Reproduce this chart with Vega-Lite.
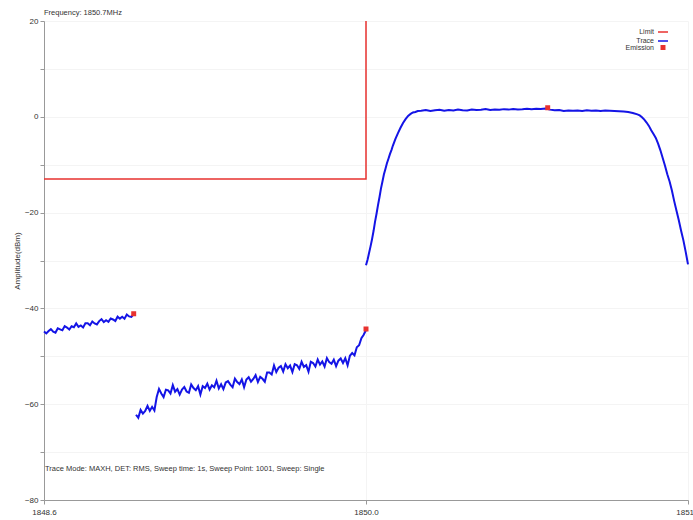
{
  "$schema": "https://vega.github.io/schema/vega-lite/v6.json",
  "width": 644,
  "height": 479,
  "autosize": {"type": "none"},
  "padding": {"left": 44, "top": 21, "right": 5, "bottom": 20},
  "background": "white",
  "config": {
    "font": "Liberation Sans",
    "view": {"stroke": null},
    "axis": {"domainColor": "#999999", "tickColor": "#999999", "labelColor": "#333333", "labelFontSize": 8, "titleFontSize": 8, "titleFontWeight": "normal", "titleColor": "#333333", "gridColor": "#f4f4f4", "tickSize": 4, "labelFlush": false}
  },
  "title": {"text": "Frequency: 1850.7MHz", "anchor": "start", "frame": "group", "fontSize": 7.5, "fontWeight": "normal", "color": "#333333", "offset": 1},
  "datasets": {
    "trace": [
      {"f":1848.60,"a":-44.8,"s":"a"},{"f":1848.61,"a":-45.21,"s":"a"},{"f":1848.62,"a":-44.72,"s":"a"},{"f":1848.63,"a":-44.33,"s":"a"},{"f":1848.64,"a":-44.84,"s":"a"},{"f":1848.65,"a":-45.05,"s":"a"},{"f":1848.66,"a":-44.16,"s":"a"},{"f":1848.67,"a":-44.37,"s":"a"},{"f":1848.68,"a":-44.58,"s":"a"},{"f":1848.69,"a":-43.69,"s":"a"},{"f":1848.70,"a":-44.0,"s":"a"},{"f":1848.71,"a":-44.41,"s":"a"},{"f":1848.72,"a":-43.72,"s":"a"},{"f":1848.73,"a":-43.93,"s":"a"},{"f":1848.74,"a":-43.14,"s":"a"},{"f":1848.75,"a":-43.85,"s":"a"},{"f":1848.76,"a":-43.56,"s":"a"},{"f":1848.77,"a":-43.97,"s":"a"},{"f":1848.78,"a":-43.08,"s":"a"},{"f":1848.79,"a":-43.09,"s":"a"},{"f":1848.80,"a":-43.51,"s":"a"},{"f":1848.81,"a":-42.72,"s":"a"},{"f":1848.82,"a":-43.13,"s":"a"},{"f":1848.83,"a":-43.34,"s":"a"},{"f":1848.84,"a":-42.65,"s":"a"},{"f":1848.85,"a":-42.26,"s":"a"},{"f":1848.86,"a":-42.87,"s":"a"},{"f":1848.87,"a":-42.48,"s":"a"},{"f":1848.88,"a":-42.79,"s":"a"},{"f":1848.89,"a":-42.10,"s":"a"},{"f":1848.90,"a":-42.31,"s":"a"},{"f":1848.91,"a":-42.62,"s":"a"},{"f":1848.92,"a":-41.73,"s":"a"},{"f":1848.93,"a":-42.14,"s":"a"},{"f":1848.94,"a":-41.75,"s":"a"},{"f":1848.95,"a":-42.16,"s":"a"},{"f":1848.96,"a":-41.27,"s":"a"},{"f":1848.97,"a":-41.68,"s":"a"},{"f":1848.98,"a":-41.79,"s":"a"},{"f":1848.99,"a":-41.2,"s":"a"},
      {"f":1849.00,"a":-62.2,"s":"b"},{"f":1849.01,"a":-62.85,"s":"b"},{"f":1849.02,"a":-61.2,"s":"b"},{"f":1849.03,"a":-61.95,"s":"b"},{"f":1849.04,"a":-61.4,"s":"b"},{"f":1849.05,"a":-60.35,"s":"b"},{"f":1849.06,"a":-61.4,"s":"b"},{"f":1849.07,"a":-60.55,"s":"b"},{"f":1849.08,"a":-61.3,"s":"b"},{"f":1849.09,"a":-58.5,"s":"b"},{"f":1849.10,"a":-56.8,"s":"b"},{"f":1849.11,"a":-57.75,"s":"b"},{"f":1849.12,"a":-58.51,"s":"b"},{"f":1849.13,"a":-56.97,"s":"b"},{"f":1849.14,"a":-57.12,"s":"b"},{"f":1849.15,"a":-57.78,"s":"b"},{"f":1849.16,"a":-56.03,"s":"b"},{"f":1849.17,"a":-57.39,"s":"b"},{"f":1849.18,"a":-56.84,"s":"b"},{"f":1849.19,"a":-58.0,"s":"b"},{"f":1849.20,"a":-56.95,"s":"b"},{"f":1849.21,"a":-56.4,"s":"b"},{"f":1849.22,"a":-57.36,"s":"b"},{"f":1849.23,"a":-57.62,"s":"b"},{"f":1849.24,"a":-55.87,"s":"b"},{"f":1849.25,"a":-56.63,"s":"b"},{"f":1849.26,"a":-57.08,"s":"b"},{"f":1849.27,"a":-56.24,"s":"b"},{"f":1849.28,"a":-57.99,"s":"b"},{"f":1849.29,"a":-56.25,"s":"b"},{"f":1849.30,"a":-56.6,"s":"b"},{"f":1849.31,"a":-55.72,"s":"b"},{"f":1849.32,"a":-56.94,"s":"b"},{"f":1849.33,"a":-56.06,"s":"b"},{"f":1849.34,"a":-56.48,"s":"b"},{"f":1849.35,"a":-55.1,"s":"b"},{"f":1849.36,"a":-56.72,"s":"b"},{"f":1849.37,"a":-55.84,"s":"b"},{"f":1849.38,"a":-56.86,"s":"b"},{"f":1849.39,"a":-55.48,"s":"b"},{"f":1849.40,"a":-55.2,"s":"b"},{"f":1849.41,"a":-55.92,"s":"b"},{"f":1849.42,"a":-56.44,"s":"b"},{"f":1849.43,"a":-54.66,"s":"b"},{"f":1849.44,"a":-55.38,"s":"b"},{"f":1849.45,"a":-55.8,"s":"b"},{"f":1849.46,"a":-54.82,"s":"b"},{"f":1849.47,"a":-56.44,"s":"b"},{"f":1849.48,"a":-54.86,"s":"b"},{"f":1849.49,"a":-54.38,"s":"b"},{"f":1849.50,"a":-55.3,"s":"b"},{"f":1849.51,"a":-54.72,"s":"b"},{"f":1849.52,"a":-53.94,"s":"b"},{"f":1849.53,"a":-55.36,"s":"b"},{"f":1849.54,"a":-54.28,"s":"b"},{"f":1849.55,"a":-54.7,"s":"b"},{"f":1849.56,"a":-55.3,"s":"b"},{"f":1849.57,"a":-53.4,"s":"b"},{"f":1849.58,"a":-53.4,"s":"b"},{"f":1849.59,"a":-53.8,"s":"b"},{"f":1849.60,"a":-51.9,"s":"b"},{"f":1849.61,"a":-53.3,"s":"b"},{"f":1849.62,"a":-52.4,"s":"b"},{"f":1849.63,"a":-52.05,"s":"b"},{"f":1849.64,"a":-53.19,"s":"b"},{"f":1849.65,"a":-51.64,"s":"b"},{"f":1849.66,"a":-52.49,"s":"b"},{"f":1849.67,"a":-51.93,"s":"b"},{"f":1849.68,"a":-53.28,"s":"b"},{"f":1849.69,"a":-51.63,"s":"b"},{"f":1849.70,"a":-51.87,"s":"b"},{"f":1849.71,"a":-52.62,"s":"b"},{"f":1849.72,"a":-51.16,"s":"b"},{"f":1849.73,"a":-52.21,"s":"b"},{"f":1849.74,"a":-51.86,"s":"b"},{"f":1849.75,"a":-53.2,"s":"b"},{"f":1849.76,"a":-51.15,"s":"b"},{"f":1849.77,"a":-51.4,"s":"b"},{"f":1849.78,"a":-52.14,"s":"b"},{"f":1849.79,"a":-50.69,"s":"b"},{"f":1849.80,"a":-51.74,"s":"b"},{"f":1849.81,"a":-51.08,"s":"b"},{"f":1849.82,"a":-52.13,"s":"b"},{"f":1849.83,"a":-50.38,"s":"b"},{"f":1849.84,"a":-51.22,"s":"b"},{"f":1849.85,"a":-51.57,"s":"b"},{"f":1849.86,"a":-50.71,"s":"b"},{"f":1849.87,"a":-52.06,"s":"b"},{"f":1849.88,"a":-50.91,"s":"b"},{"f":1849.89,"a":-50.45,"s":"b"},{"f":1849.90,"a":-51.4,"s":"b"},{"f":1849.91,"a":-50.4,"s":"b"},{"f":1849.92,"a":-51.9,"s":"b"},{"f":1849.93,"a":-49.9,"s":"b"},{"f":1849.94,"a":-49.3,"s":"b"},{"f":1849.95,"a":-49.8,"s":"b"},{"f":1849.96,"a":-48.1,"s":"b"},{"f":1849.97,"a":-47.7,"s":"b"},{"f":1849.98,"a":-46.2,"s":"b"},{"f":1849.99,"a":-45.5,"s":"b"},{"f":1850.00,"a":-44.5,"s":"b"},
      {"f":1850.000,"a":-31.0,"s":"c"},{"f":1850.007,"a":-29.8,"s":"c"},{"f":1850.013,"a":-28.5,"s":"c"},{"f":1850.020,"a":-27.0,"s":"c"},{"f":1850.026,"a":-25.6,"s":"c"},{"f":1850.033,"a":-23.8,"s":"c"},{"f":1850.039,"a":-22.0,"s":"c"},{"f":1850.046,"a":-20.2,"s":"c"},{"f":1850.052,"a":-18.5,"s":"c"},{"f":1850.059,"a":-16.7,"s":"c"},{"f":1850.065,"a":-15.0,"s":"c"},{"f":1850.072,"a":-13.4,"s":"c"},{"f":1850.078,"a":-12.0,"s":"c"},{"f":1850.085,"a":-10.8,"s":"c"},{"f":1850.091,"a":-9.7,"s":"c"},{"f":1850.098,"a":-8.7,"s":"c"},{"f":1850.104,"a":-7.8,"s":"c"},{"f":1850.111,"a":-6.9,"s":"c"},{"f":1850.117,"a":-6.0,"s":"c"},{"f":1850.128,"a":-4.6,"s":"c"},{"f":1850.139,"a":-3.4,"s":"c"},{"f":1850.150,"a":-2.3,"s":"c"},{"f":1850.161,"a":-1.3,"s":"c"},{"f":1850.172,"a":-0.5,"s":"c"},{"f":1850.183,"a":0.2,"s":"c"},{"f":1850.194,"a":0.6,"s":"c"},{"f":1850.204,"a":0.9,"s":"c"},{"f":1850.215,"a":1.0,"s":"c"},{"f":1850.225,"a":1.2,"s":"c"},
      {"f":1850.24,"a":1.25,"s":"c"},{"f":1850.26,"a":1.4,"s":"c"},{"f":1850.28,"a":1.2,"s":"c"},{"f":1850.30,"a":1.35,"s":"c"},{"f":1850.32,"a":1.45,"s":"c"},{"f":1850.34,"a":1.25,"s":"c"},{"f":1850.36,"a":1.4,"s":"c"},{"f":1850.38,"a":1.3,"s":"c"},{"f":1850.40,"a":1.5,"s":"c"},{"f":1850.42,"a":1.35,"s":"c"},{"f":1850.44,"a":1.3,"s":"c"},{"f":1850.46,"a":1.5,"s":"c"},{"f":1850.48,"a":1.4,"s":"c"},{"f":1850.50,"a":1.45,"s":"c"},{"f":1850.52,"a":1.6,"s":"c"},{"f":1850.54,"a":1.4,"s":"c"},{"f":1850.56,"a":1.5,"s":"c"},{"f":1850.58,"a":1.45,"s":"c"},{"f":1850.60,"a":1.6,"s":"c"},{"f":1850.62,"a":1.5,"s":"c"},{"f":1850.64,"a":1.65,"s":"c"},{"f":1850.66,"a":1.55,"s":"c"},{"f":1850.68,"a":1.6,"s":"c"},{"f":1850.70,"a":1.7,"s":"c"},{"f":1850.72,"a":1.6,"s":"c"},{"f":1850.74,"a":1.7,"s":"c"},{"f":1850.76,"a":1.65,"s":"c"},{"f":1850.78,"a":1.75,"s":"c"},{"f":1850.80,"a":1.5,"s":"c"},{"f":1850.82,"a":1.35,"s":"c"},{"f":1850.84,"a":1.4,"s":"c"},{"f":1850.86,"a":1.2,"s":"c"},{"f":1850.88,"a":1.3,"s":"c"},{"f":1850.90,"a":1.25,"s":"c"},{"f":1850.92,"a":1.3,"s":"c"},{"f":1850.94,"a":1.2,"s":"c"},{"f":1850.96,"a":1.35,"s":"c"},{"f":1850.98,"a":1.25,"s":"c"},{"f":1851.00,"a":1.3,"s":"c"},{"f":1851.02,"a":1.2,"s":"c"},{"f":1851.04,"a":1.3,"s":"c"},{"f":1851.06,"a":1.25,"s":"c"},{"f":1851.08,"a":1.2,"s":"c"},{"f":1851.10,"a":1.15,"s":"c"},{"f":1851.12,"a":1.1,"s":"c"},{"f":1851.14,"a":1.0,"s":"c"},{"f":1851.16,"a":0.8,"s":"c"},
      {"f":1851.18,"a":0.5,"s":"c"},{"f":1851.19,"a":0.3,"s":"c"},{"f":1851.20,"a":-0.1,"s":"c"},{"f":1851.21,"a":-0.6,"s":"c"},{"f":1851.22,"a":-1.2,"s":"c"},{"f":1851.23,"a":-1.9,"s":"c"},{"f":1851.24,"a":-2.8,"s":"c"},{"f":1851.25,"a":-3.6,"s":"c"},{"f":1851.26,"a":-4.4,"s":"c"},{"f":1851.27,"a":-5.6,"s":"c"},{"f":1851.28,"a":-7.0,"s":"c"},{"f":1851.29,"a":-8.6,"s":"c"},{"f":1851.30,"a":-10.2,"s":"c"},{"f":1851.31,"a":-12.0,"s":"c"},{"f":1851.32,"a":-13.5,"s":"c"},{"f":1851.33,"a":-15.4,"s":"c"},{"f":1851.34,"a":-17.6,"s":"c"},{"f":1851.35,"a":-19.6,"s":"c"},{"f":1851.36,"a":-21.6,"s":"c"},{"f":1851.37,"a":-23.8,"s":"c"},{"f":1851.38,"a":-25.8,"s":"c"},{"f":1851.39,"a":-28.2,"s":"c"},{"f":1851.40,"a":-30.8,"s":"c"}
    ],
    "limit": [{"f":1848.6,"a":-13,"o":1},{"f":1850.0,"a":-13,"o":2},{"f":1850.0,"a":20,"o":3}],
    "emission": [{"f":1848.99,"a":-41.1,"series":"Emission"},{"f":1850.0,"a":-44.3,"series":"Emission"},{"f":1850.79,"a":1.9,"series":"Emission"}],
    "note": [{"f":1848.6,"a":-73.6,"t":"Trace Mode: MAXH, DET: RMS, Sweep time: 1s, Sweep Point: 1001, Sweep: Single"}]
  },
  "layer": [
    {
      "data": {"name": "limit"},
      "mark": {"type": "line", "color": "#e8322f", "strokeWidth": 1.5},
      "encoding": {
        "x": {"field": "f", "type": "quantitative", "scale": {"domain": [1848.6, 1851.4], "nice": false, "zero": false},
          "axis": {"title": null, "values": [1848.6, 1850.0, 1851.4], "format": ".1f", "labelPadding": 4}},
        "y": {"field": "a", "type": "quantitative", "scale": {"domain": [-80, 20], "nice": false},
          "axis": {"title": "Amplitude(dBm)", "values": [-80,-70,-60,-50,-40,-30,-20,-10,0,10,20], "labelExpr": "datum.value % 20 === 0 ? datum.label : ''", "titlePadding": 3}},
        "order": {"field": "o"}
      }
    },
    {
      "data": {"name": "trace"},
      "mark": {"type": "line", "color": "#1414e6", "strokeWidth": 2},
      "encoding": {
        "x": {"field": "f", "type": "quantitative"},
        "y": {"field": "a", "type": "quantitative"},
        "detail": {"field": "s"}
      }
    },
    {
      "data": {"name": "emission"},
      "mark": {"type": "point", "filled": false, "fill": "#e8322f", "strokeWidth": 1.5, "opacity": 1},
      "encoding": {
        "x": {"field": "f", "type": "quantitative"},
        "y": {"field": "a", "type": "quantitative"},
        "color": {"field": "series", "type": "nominal", "scale": {"domain": ["Limit", "Trace", "Emission"], "range": ["#e8322f", "#1414e6", "#e8322f"]},
          "legend": {"title": null, "orient": "none", "legendX": 613, "legendY": 5, "labelFontSize": 7, "labelColor": "#333333", "labelAlign": "right", "labelOffset": -15, "rowPadding": -2, "symbolStrokeWidth": 1.5}},
        "shape": {"field": "series", "type": "nominal", "scale": {"domain": ["Limit", "Trace", "Emission"], "range": ["stroke", "stroke", "square"]}},
        "size": {"field": "series", "type": "nominal", "scale": {"type": "ordinal", "domain": ["Limit", "Trace", "Emission"], "range": [100, 100, 12]}}
      }
    },
    {
      "data": {"name": "note"},
      "mark": {"type": "text", "align": "left", "baseline": "middle", "fontSize": 7.5, "color": "#333333", "dx": 1},
      "encoding": {
        "x": {"field": "f", "type": "quantitative"},
        "y": {"field": "a", "type": "quantitative"},
        "text": {"field": "t"}
      }
    }
  ]
}
